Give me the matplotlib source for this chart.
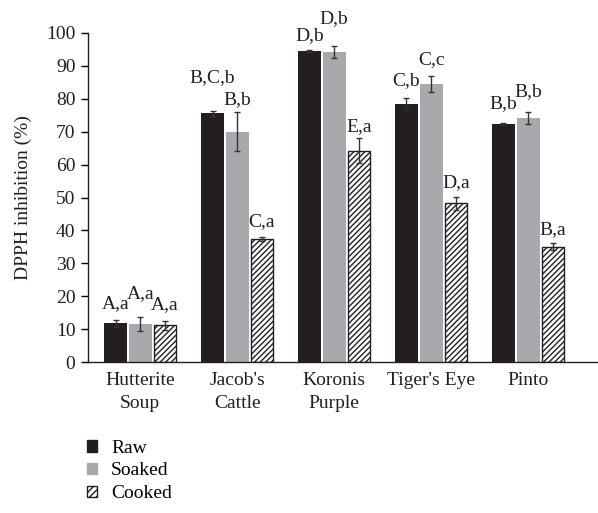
import numpy as np
import matplotlib
matplotlib.use("Agg")
import matplotlib.pyplot as plt
from matplotlib.patches import Patch

plt.rcParams["font.family"] = ["Liberation Serif", "DejaVu Serif"]
plt.rcParams["hatch.linewidth"] = 1.0

# ── データ
categories = ["Hutterite\nSoup", "Jacob's\nCattle", "Koronis\nPurple", "Tiger's Eye", "Pinto"]
treatments = ["Raw", "Soaked", "Cooked"]

raw_mean    = [11.8, 75.6, 94.5, 78.4, 72.3]
soaked_mean = [11.6, 70.0, 94.2, 84.5, 74.2]
cooked_mean = [11.2, 37.4, 64.2, 48.2, 35.1]

raw_err    = [1.0, 0.8, 0.2, 1.7, 0.4]
soaked_err = [2.0, 6.0, 1.9, 2.4, 1.8]
cooked_err = [1.3, 0.7, 3.8, 2.1, 1.0]

raw_labels    = ["A,a", "B,C,b", "D,b", "C,b", "B,b"]
soaked_labels = ["A,a", "B,b", "D,b", "C,c", "B,b"]
cooked_labels = ["A,a", "C,a", "E,a", "D,a", "B,a"]

# ラベルの高さ（データ座標）
raw_label_y    = [17.8, 86.3, 99.1, 85.5, 78.6]
soaked_label_y = [20.7, 79.6, 104.4, 92.0, 82.2]
cooked_label_y = [17.5, 42.6, 71.5, 54.5, 40.3]

RAW_C = "#231f20"
SOAK_C = "#a7a9ac"
FS = 14

fig = plt.figure(figsize=(5.98, 5.13), dpi=100)
ax = fig.add_axes([0.147, 0.294, 0.853, 0.642])

x = np.arange(len(categories))
w = 0.235
gap = 0.02
offs = [-(w + gap), 0.0, (w + gap)]

ekw = dict(ecolor="#333333", elinewidth=1.0, capsize=2.5, capthick=1.0)

ax.bar(x + offs[0], raw_mean, w, color=RAW_C, yerr=raw_err, error_kw=ekw, zorder=2)
ax.bar(x + offs[1], soaked_mean, w, color=SOAK_C, yerr=soaked_err, error_kw=ekw, zorder=2)
ax.bar(x + offs[2], cooked_mean, w, color="white", edgecolor=RAW_C, hatch="//////",
       linewidth=1.0, yerr=cooked_err, error_kw=ekw, zorder=2)

for off, labs, ys in [(offs[0], raw_labels, raw_label_y),
                      (offs[1], soaked_labels, soaked_label_y),
                      (offs[2], cooked_labels, cooked_label_y)]:
    for xi, lab, yy in zip(x, labs, ys):
        ax.text(xi + off, yy, lab, ha="center", va="center", fontsize=FS, color="#231f20")

ax.set_xlim(-0.54, 4.72)
ax.set_ylim(0, 100)
ax.set_yticks(np.arange(0, 101, 10))
ax.set_xticks(x)
ax.set_xticklabels(categories, fontsize=FS, color="#231f20", linespacing=1.45)
ax.tick_params(axis="x", length=0, pad=7)
ax.tick_params(axis="y", labelsize=FS, direction="out", length=5, width=1.0,
               labelcolor="#231f20", pad=4)
ax.set_ylabel("DPPH inhibition (%)", fontsize=FS, color="#231f20", labelpad=10)

for s in ["top", "right"]:
    ax.spines[s].set_visible(False)
for s in ["left", "bottom"]:
    ax.spines[s].set_linewidth(1.0)
    ax.spines[s].set_color("#231f20")

handles = [Patch(facecolor=RAW_C, edgecolor=RAW_C),
           Patch(facecolor=SOAK_C, edgecolor=SOAK_C),
           Patch(facecolor="white", edgecolor=RAW_C, hatch="/////")]
fig.legend(handles, treatments, loc="upper left", bbox_to_anchor=(0.145, 0.143),
           frameon=False, fontsize=FS, handlelength=0.55, handleheight=0.55,
           handletextpad=0.7, labelspacing=0.3, borderaxespad=0, borderpad=0)

fig.savefig("out.png", dpi=100)
